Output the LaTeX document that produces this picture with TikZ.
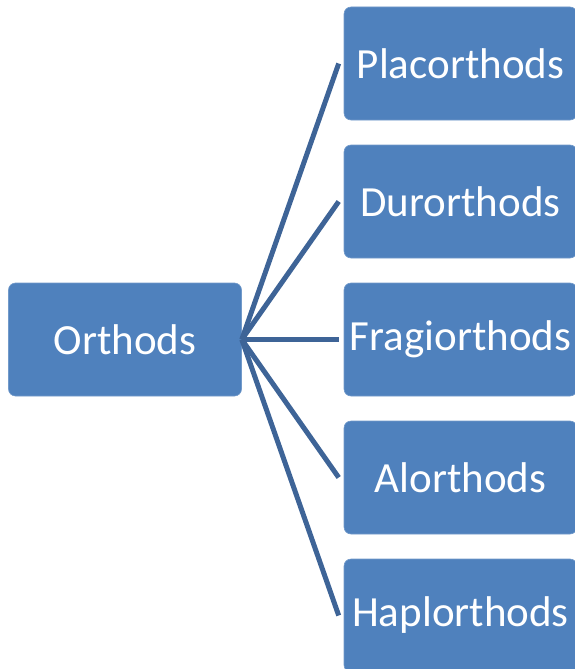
\documentclass[tikz,border=0pt]{standalone}
\usepackage{fontspec}
\setmainfont{Carlito}
\definecolor{boxblue}{HTML}{4F81BD}
\definecolor{lineblue}{HTML}{3E6497}
\begin{document}
\begin{tikzpicture}[x=1pt,y=-1pt,
  box/.style={fill=boxblue, draw=boxblue!80!white, line width=0.6pt, rounded corners=7pt,
    minimum width=233pt, minimum height=113pt, text=white, font=\fontsize{43}{50}\selectfont, inner sep=0pt},
  link/.style={draw=lineblue, line width=5pt}]
\useasboundingbox (0,0) rectangle (575,669);
\begin{scope}
\clip (0,0) rectangle (575,669);
\node[box] (root) at (125,339.5) {Orthods};
\node[box] (a) at (460.5,63.5) {Placorthods};
\node[box] (b) at (460.5,201.5) {Durorthods};
\node[box] (c) at (460.5,339.5) {Fragiorthods};
\node[box] (d) at (460.5,477.5) {Alorthods};
\node[box] (e) at (460.5,615.5) {Haplorthods};
\foreach \t in {a,b,c,d,e}{
  \coordinate (\t-end) at ([xshift=-5pt]\t.west);
  \draw[link] (root.east) -- (\t-end);
}
\end{scope}
\end{tikzpicture}
\end{document}
